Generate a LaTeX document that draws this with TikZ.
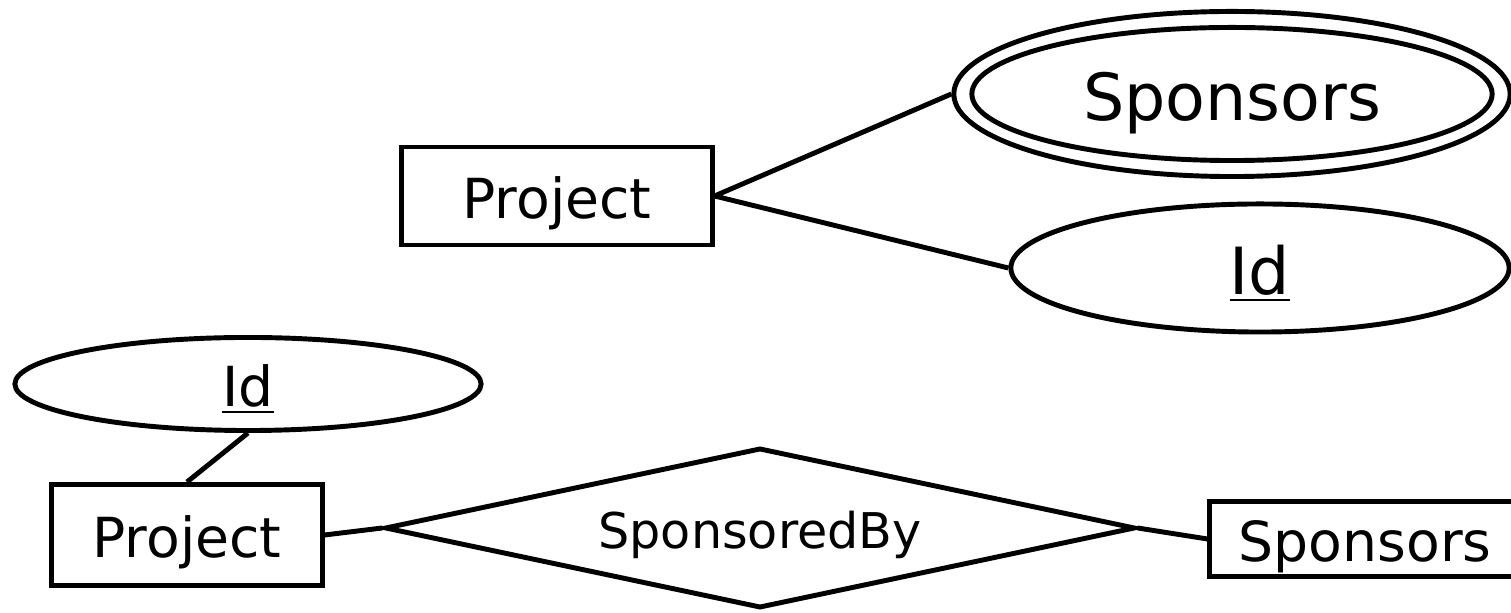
\documentclass[tikz,border=0pt]{standalone}
\usepackage{fontspec}
\setmainfont{DejaVu Sans}
\usetikzlibrary{shapes.geometric}

\begin{document}
\begin{tikzpicture}[x=0.01cm, y=-0.01cm, line width=1.4pt,
    entity/.style={draw, rectangle, inner sep=0pt},
    attr/.style={draw, ellipse, inner sep=0pt},
    rel/.style={draw, diamond, inner sep=0pt, aspect=4.6},
    big/.style={font=\fontsize{18.5}{22}\selectfont, text height=14.8pt, text depth=0pt},
    mid/.style={font=\fontsize{15.7}{19}\selectfont, text height=12.6pt, text depth=0pt},
    small/.style={font=\fontsize{14}{17}\selectfont, text height=11.6pt, text depth=0pt}]
\useasboundingbox (0,0) rectangle (1511,613);
% multivalued attribute
\node[entity, mid, minimum width=3.1cm, minimum height=0.98cm] (proj) at (557,196) {Project};
\node[attr, minimum width=5.56cm, minimum height=1.65cm] (spo) at (1232,94) {};
\node[attr, big, minimum width=5.2cm, minimum height=1.33cm] (spi) at (1232,94) {Sponsors};
\node[attr, big, minimum width=4.98cm, minimum height=1.28cm] (pid) at (1260,268) {\underline{Id}};
\draw
(proj.east) -- (spo.west)
(proj.east) -- (pid.west);
% as an entity set
\node[attr, mid, minimum width=4.66cm, minimum height=0.93cm] (bid) at (248,384) {\underline{Id}};
\node[entity, mid, minimum width=2.7cm, minimum height=1.01cm] (bproj) at (187,535) {Project};
\node[rel, small, minimum width=7.5cm, minimum height=1.6cm] (sby) at (760,528) {SponsoredBy};
\node[entity, mid, minimum width=3.1cm, minimum height=0.75cm] (bspo) at (1365,539) {Sponsors};
\draw
(bid.south) -- (bproj.north)
(bproj.east) -- (sby.west)
(sby.east) -- (bspo.west);
\end{tikzpicture}
\end{document}
